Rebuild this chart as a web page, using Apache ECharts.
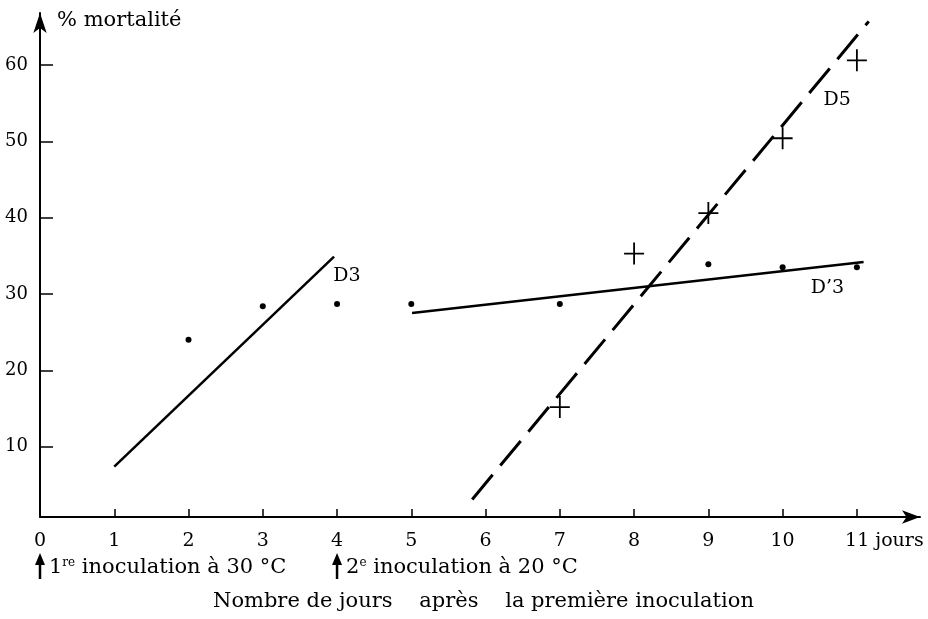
<!DOCTYPE html>
<html>
<head>
<meta charset="utf-8">
<script src="https://cdn.jsdelivr.net/npm/echarts@6/dist/echarts.min.js"></script>
<style>
  html, body { margin: 0; padding: 0; background: #fff; }
  #chart { width: 928px; height: 619px; }
</style>
</head>
<body>
<div id="chart"></div>
<script>
// ticks
const xTicks = [0, 1, 2, 3, 4, 5, 6, 7, 8, 9, 10, 11];
const yTicks = [10, 20, 30, 40, 50, 60];

// D3 / D'3 points (dots)
const dotDays = [2, 3, 4, 5, 7, 9, 10, 11];
const dotMortality = [24, 28.4, 28.7, 28.7, 28.7, 33.9, 33.5, 33.5];

// D5 points (crosses)
const crossDays = [7, 8, 9, 10, 11];
const crossMortality = [15.2, 35.3, 40.6, 50.4, 60.6];

// fitted lines, end points
const lineD3 = [[1, 7.4], [3.96, 34.9]];
const lineD3b = [[5.01, 27.5], [11.09, 34.2]];
const lineD5 = [[5.82, 3.1], [11.16, 65.7]];

const lineNames = ['D3', 'D\u20193', 'D5'];
const lineNameAt = [[3.95, 32.3], [10.38, 30.8], [10.55, 55.4]];

const inoculations = [0, 4];
const inoculationText = [
  '{n|1}{sup|re} inoculation à 30 °C',
  '{n|2}{sup|e} inoculation à 20 °C'
];

const FONT = 'DejaVu Serif';
const chart = echarts.init(document.getElementById('chart'));

const option = {
  animation: false,
  backgroundColor: '#fff',
  grid: { left: 40, right: 8, top: 13, bottom: 102 },
  xAxis: {
    type: 'value',
    min: 0,
    max: 11.85,
    splitLine: { show: false },
    axisLine: {
      lineStyle: { color: '#000', width: 2 },
      symbol: ['none', 'arrow'],
      symbolSize: [10, 18]
    },
    axisTick: {
      inside: true, length: 8, customValues: xTicks,
      lineStyle: { color: '#000', width: 1.5 }
    },
    axisLabel: {
      customValues: xTicks,
      margin: 15,
      color: '#000',
      fontFamily: FONT,
      fontSize: 19,
      formatter: v => v === 11 ? '{pad|}11 jours' : String(v),
      rich: { pad: { width: 55 } }
    }
  },
  yAxis: {
    type: 'value',
    min: 0.8,
    max: 66.8,
    splitLine: { show: false },
    axisLine: {
      lineStyle: { color: '#000', width: 2 },
      symbol: ['none', 'arrow'],
      symbolSize: [10, 20]
    },
    axisTick: {
      inside: true, length: 13, customValues: yTicks,
      lineStyle: { color: '#000', width: 1.5 }
    },
    axisLabel: {
      customValues: yTicks,
      margin: 12,
      color: '#000',
      fontFamily: FONT,
      fontSize: 18
    }
  },
  series: [
    {
      name: 'D3', type: 'line', data: lineD3, showSymbol: false,
      lineStyle: { color: '#000', width: 2.5 }
    },
    {
      name: 'D\u20193', type: 'line', data: lineD3b, showSymbol: false,
      lineStyle: { color: '#000', width: 2.5 }
    },
    {
      name: 'D5', type: 'line', data: lineD5, showSymbol: false,
      lineStyle: { color: '#000', width: 3, type: [32, 12] }
    },
    {
      name: 'points', type: 'scatter', symbolSize: 6,
      itemStyle: { color: '#000', opacity: 1 },
      data: dotDays.map((d, i) => [d, dotMortality[i]])
    },
    {
      name: 'croix', type: 'scatter',
      symbol: 'path://M-0.9,-11h1.8v22h-1.8zM-10,-0.9h20v1.8h-20z',
      symbolSize: [20, 22],
      itemStyle: { color: '#000', opacity: 1 },
      data: crossDays.map((d, i) => [d, crossMortality[i]])
    },
    {
      name: 'noms', type: 'scatter', symbolSize: 0, silent: true,
      itemStyle: { color: '#000', opacity: 1 },
      data: lineNameAt.map((p, i) => [p[0], p[1], lineNames[i]]),
      label: {
        show: true, position: 'right', distance: 0,
        formatter: p => p.value[2],
        color: '#000', opacity: 1, fontFamily: FONT, fontSize: 19
      }
    }
  ]
};
chart.setOption(option);

// annotations under the x axis
const rowY = 568;
const graphics = [];
inoculations.forEach((day, i) => {
  const px = chart.convertToPixel({ xAxisIndex: 0 }, day);
  graphics.push({
    type: 'polygon',
    shape: { points: [[px, rowY - 15], [px - 5, rowY - 3], [px + 5, rowY - 3]] },
    style: { fill: '#000' }
  });
  graphics.push({
    type: 'line',
    shape: { x1: px, y1: rowY - 4, x2: px, y2: rowY + 11 },
    style: { stroke: '#000', lineWidth: 2.5 }
  });
  graphics.push({
    type: 'text',
    x: px + 9, y: rowY,
    style: {
      text: inoculationText[i],
      fill: '#000',
      font: '21px "' + FONT + '"',
      verticalAlign: 'middle',
      rich: {
        n: { fontFamily: FONT, fontSize: 21, fill: '#000' },
        sup: { fontFamily: FONT, fontSize: 12, fill: '#000', verticalAlign: 'top', padding: [0, 0, 10, 0] }
      }
    }
  });
});
graphics.push({
  type: 'text',
  x: 213, y: 602,
  style: {
    text: 'Nombre de jours    après    la première inoculation',
    fill: '#000',
    font: '21px "' + FONT + '"',
    verticalAlign: 'middle'
  }
});
graphics.push({
  type: 'text',
  x: 57, y: 21,
  style: {
    text: '% mortalité',
    fill: '#000',
    font: '21px "' + FONT + '"',
    verticalAlign: 'middle'
  }
});
chart.setOption({ graphic: graphics });
</script>
</body>
</html>
